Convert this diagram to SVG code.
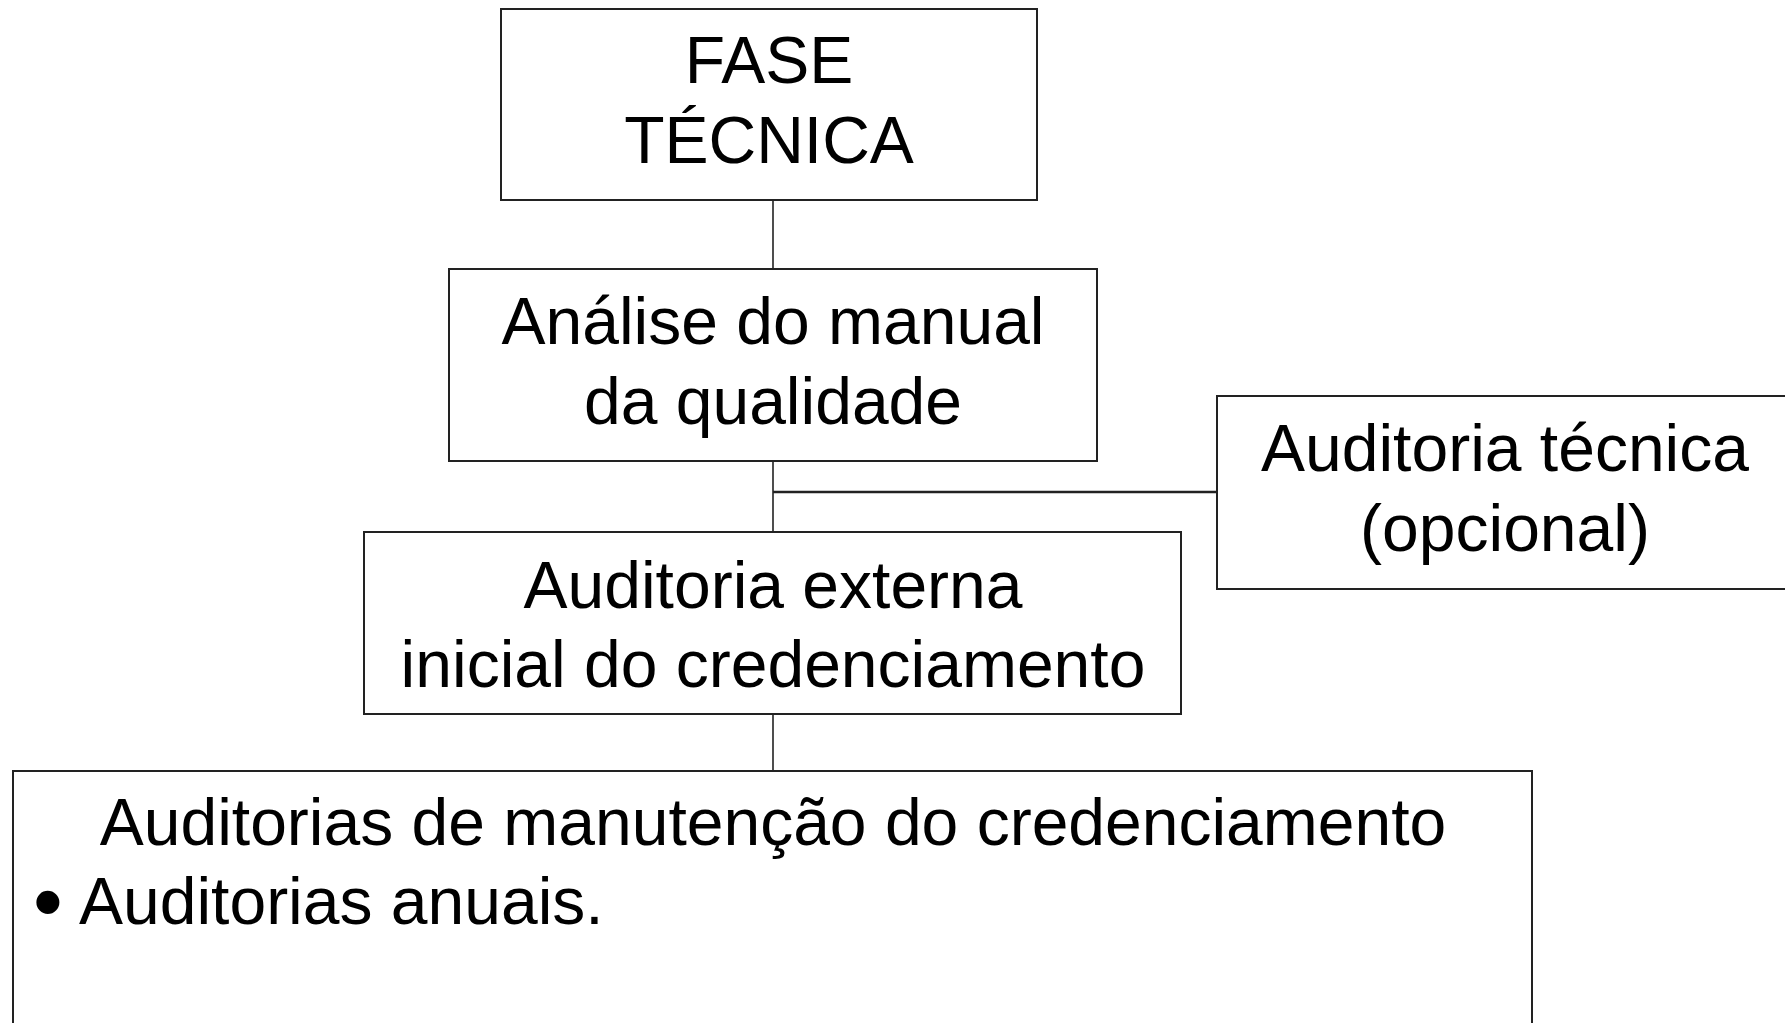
<svg xmlns="http://www.w3.org/2000/svg" width="1785" height="1023" viewBox="0 0 1785 1023">
<style>
.box{fill:#fff;stroke:#222;stroke-width:2}
.t{font-family:"Liberation Sans",Arial,sans-serif;font-size:66px;fill:#000}
.c{text-anchor:middle}
.con{stroke:#222;stroke-width:1.6;fill:none}
</style>
<rect width="1785" height="1023" fill="#fff"/>
<g id="connectors">
<line class="con" x1="773" y1="200" x2="773" y2="269"/>
<line class="con" x1="773" y1="461" x2="773" y2="532"/>
<line class="con" x1="773" y1="492" x2="1221" y2="492" style="stroke-width:2.6"/>
<line class="con" x1="773" y1="714" x2="773" y2="771"/>
</g>
<g id="fase-tecnica">
<rect class="box" x="501" y="9" width="536" height="191"/>
<text class="t c" x="769" y="83">FASE</text>
<text class="t c" x="769" y="163">TÉCNICA</text>
</g>
<g id="analise">
<rect class="box" x="449" y="269" width="648" height="192"/>
<text class="t c" x="773" y="344">Análise do manual</text>
<text class="t c" x="773" y="424">da qualidade</text>
</g>
<g id="auditoria-tecnica">
<rect class="box" x="1217" y="396" width="600" height="193"/>
<text class="t c" x="1505" y="471">Auditoria técnica</text>
<text class="t c" x="1505" y="551">(opcional)</text>
</g>
<g id="auditoria-externa">
<rect class="box" x="364" y="532" width="817" height="182"/>
<text class="t c" x="773" y="608">Auditoria externa</text>
<text class="t c" x="773" y="687">inicial do credenciamento</text>
</g>
<g id="manutencao">
<rect class="box" x="13" y="771" width="1519" height="300"/>
<text class="t c" x="773" y="845">Auditorias de manutenção do credenciamento</text>
<text class="t" x="33" y="931" style="font-size:85px">•</text>
<text class="t" x="79" y="924">Auditorias anuais.</text>
</g>
</svg>
